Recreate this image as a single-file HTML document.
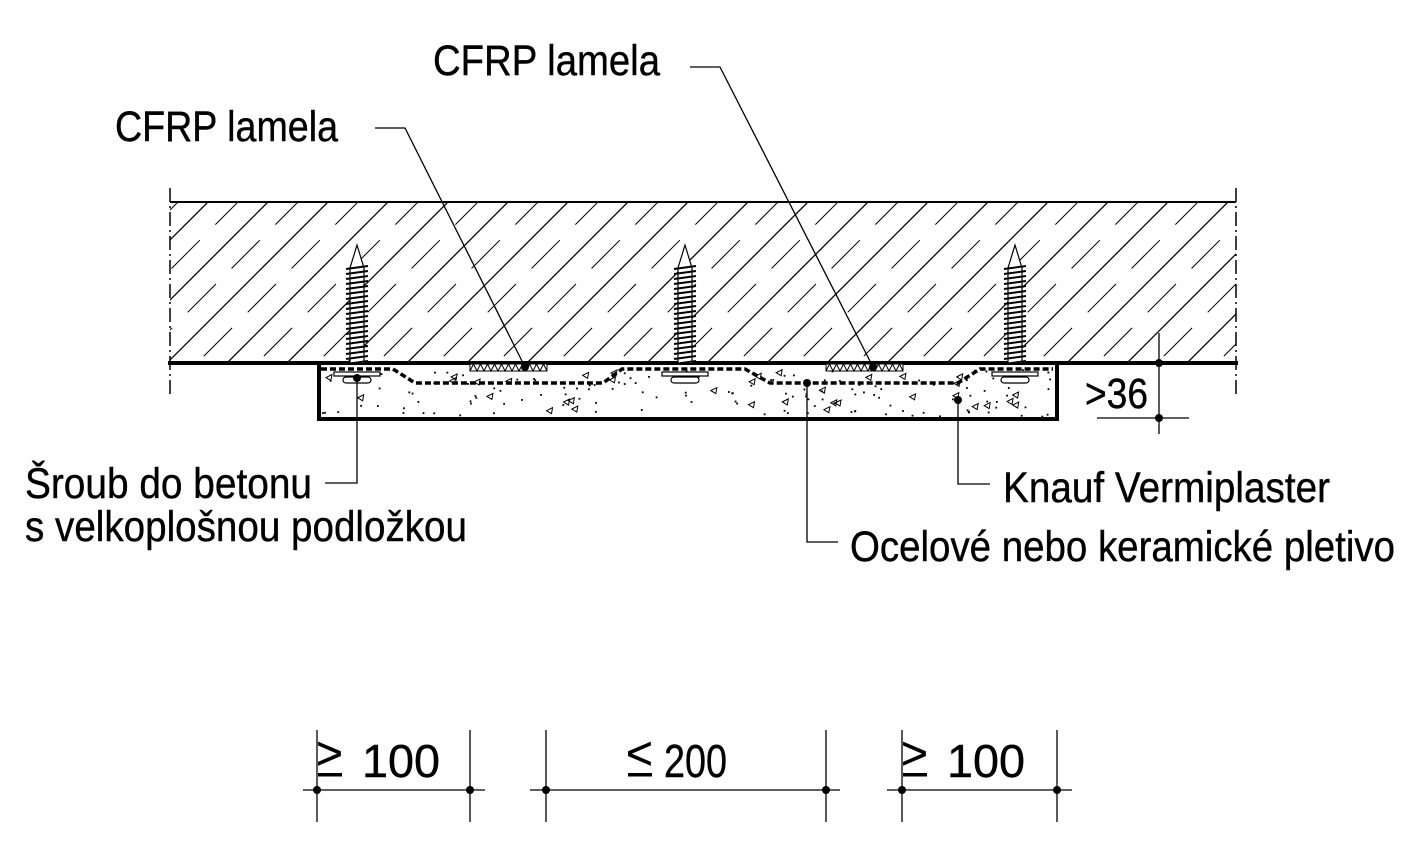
<!DOCTYPE html>
<html><head><meta charset="utf-8"><style>
html,body{margin:0;padding:0;background:#fff;}
svg{display:block}
text{font-family:"Liberation Sans",sans-serif;fill:#000;}
</style></head><body>
<svg id="s" width="1427" height="864" viewBox="0 0 1427 864" xmlns="http://www.w3.org/2000/svg">
<defs>
<clipPath id="slab"><rect x="170" y="202" width="1066" height="161"/></clipPath>
<clipPath id="pl"><rect x="319" y="365" width="736" height="52"/></clipPath>
</defs>
<g id="hatch" clip-path="url(#slab)" stroke="#000" stroke-width="1.2"></g>
<line x1="170" y1="202" x2="1236" y2="202" stroke="#000" stroke-width="2"/>
<line x1="168" y1="363" x2="1238" y2="363" stroke="#000" stroke-width="4"/>
<line x1="170" y1="188" x2="170" y2="395" stroke="#000" stroke-width="1.5" stroke-dasharray="14,4,2,4"/>
<line x1="1236" y1="188" x2="1236" y2="395" stroke="#000" stroke-width="1.5" stroke-dasharray="14,4,2,4"/>
<g id="speck" clip-path="url(#pl)" fill="none" stroke="#000" stroke-width="1"></g>
<path d="M319 363 V419 H1057 V363" fill="none" stroke="#000" stroke-width="4"/>
<path d="M321 369 H393 L415 383 H603 L622 369 H745 L770 383 H958 L980 369 H1053" fill="none" stroke="#000" stroke-width="3.5" stroke-dasharray="6,3"/>
<g id="lam" stroke="#000" stroke-width="1" fill="#fff"></g>
<g id="screws" stroke="#000" stroke-width="1.2" fill="#fff"></g>
<g stroke="#000" stroke-width="1.3" fill="none">
<polyline points="375,128 405,128 525,367"/>
<polyline points="690,67 720,67 873,367"/>
<polyline points="357,378 357,483 325,483"/>
<polyline points="958,400 958,484 990,484"/>
<polyline points="807,383 807,542 838,542"/>
<line x1="1159" y1="333" x2="1159" y2="434"/>
<line x1="1097" y1="418" x2="1189" y2="418"/>
<line x1="1057" y1="363" x2="1170" y2="363"/>
</g>
<g fill="#000">
<circle cx="525" cy="367" r="4"/><circle cx="873" cy="367" r="4"/>
<circle cx="357" cy="378" r="4"/><circle cx="958" cy="400" r="4"/><circle cx="807" cy="383" r="4"/>
<circle cx="1159" cy="363" r="4"/><circle cx="1159" cy="418" r="4"/>
</g>
<g stroke="#000" stroke-width="1.3">
<line x1="303" y1="790" x2="485" y2="790"/><line x1="317" y1="730" x2="317" y2="822"/><line x1="470" y1="730" x2="470" y2="822"/>
<line x1="530" y1="790" x2="840" y2="790"/><line x1="546" y1="730" x2="546" y2="822"/><line x1="826" y1="730" x2="826" y2="822"/>
<line x1="887" y1="790" x2="1072" y2="790"/><line x1="902" y1="730" x2="902" y2="822"/><line x1="1057" y1="730" x2="1057" y2="822"/>
</g>
<g fill="#000">
<circle cx="317" cy="790" r="4"/><circle cx="470" cy="790" r="4"/><circle cx="546" cy="790" r="4"/><circle cx="826" cy="790" r="4"/><circle cx="902" cy="790" r="4"/><circle cx="1057" cy="790" r="4"/>
</g>
<g font-size="43" stroke="#000" stroke-width="0.4">
<text x="433" y="75" textLength="227" lengthAdjust="spacingAndGlyphs">CFRP lamela</text>
<text x="115" y="141" textLength="223" lengthAdjust="spacingAndGlyphs">CFRP lamela</text>
<text x="1085" y="408" textLength="63" lengthAdjust="spacingAndGlyphs">&gt;36</text>
<text x="25" y="498" textLength="287" lengthAdjust="spacingAndGlyphs">Šroub do betonu</text>
<text x="25" y="541" textLength="442" lengthAdjust="spacingAndGlyphs">s velkoplošnou podložkou</text>
<text x="1003" y="502" textLength="327" lengthAdjust="spacingAndGlyphs">Knauf Vermiplaster</text>
<text x="850" y="561" textLength="545" lengthAdjust="spacingAndGlyphs">Ocelové nebo keramické pletivo</text>
</g>
<g font-size="46" stroke="#000" stroke-width="0.4">
<text x="316" y="769">&gt;</text>
<text x="362" y="777" textLength="78" lengthAdjust="spacingAndGlyphs">100</text>
<text x="626" y="769">&lt;</text>
<text x="664" y="777" textLength="63" lengthAdjust="spacingAndGlyphs">200</text>
<text x="901" y="769">&gt;</text>
<text x="947" y="777" textLength="78" lengthAdjust="spacingAndGlyphs">100</text>
</g>
<g fill="#000">
<rect x="318" y="773" width="24" height="3.5"/><rect x="628" y="773" width="24" height="3.5"/><rect x="903" y="773" width="24" height="3.5"/>
</g>
</svg>
<script>
var NS="http://www.w3.org/2000/svg";
function el(p,t,a){var e=document.createElementNS(NS,t);for(var k in a)e.setAttribute(k,a[k]);p.appendChild(e);return e;}
var h=document.getElementById("hatch");
for(var c=350;c<1650;c+=30){
  var solid=((c-350)/30)%2==0;
  el(h,"line",{x1:c-400,y1:400,x2:c-150,y2:150,"stroke-dasharray":solid?"none":"40,22","stroke-width":solid?1.3:1});
}
var sp=document.getElementById("speck");
var seed=7;function r(){seed=(seed*16807)%2147483647;return seed/2147483647;}
for(var i=0;i<140;i++){var x=322+r()*730,y=368+r()*48;el(sp,"rect",{x:x,y:y,width:1.8,height:1.8,fill:"#000",stroke:"none"});}
for(var i=0;i<35;i++){var x=325+r()*720,y=372+r()*42;el(sp,"path",{d:"M"+x+" "+y+" l6 -3 l-1 6 z"});}
var lm=document.getElementById("lam");
[470,826].forEach(function(x0){
  el(lm,"rect",{x:x0,y:364,width:77,height:7});
  var d="M"+x0+" 371";for(var i=0;i<11;i++){d+=" l3.5 -7 l3.5 7";}
  el(lm,"path",{d:d,fill:"none"});
});
var sc=document.getElementById("screws");
[357,685,1015].forEach(function(x){
  el(sc,"path",{d:"M"+(x-7)+" 363 V268 L"+x+" 245 L"+(x+7)+" 268 V363"});
  for(var y=266;y<362;y+=5){el(sc,"line",{x1:x-11,y1:y+3,x2:x+11,y2:y,"stroke-width":2});}
  el(sc,"rect",{x:x-23,y:372,width:46,height:4});
  el(sc,"rect",{x:x-14,y:377,width:28,height:6,rx:3});
});
</script>
</body></html>
